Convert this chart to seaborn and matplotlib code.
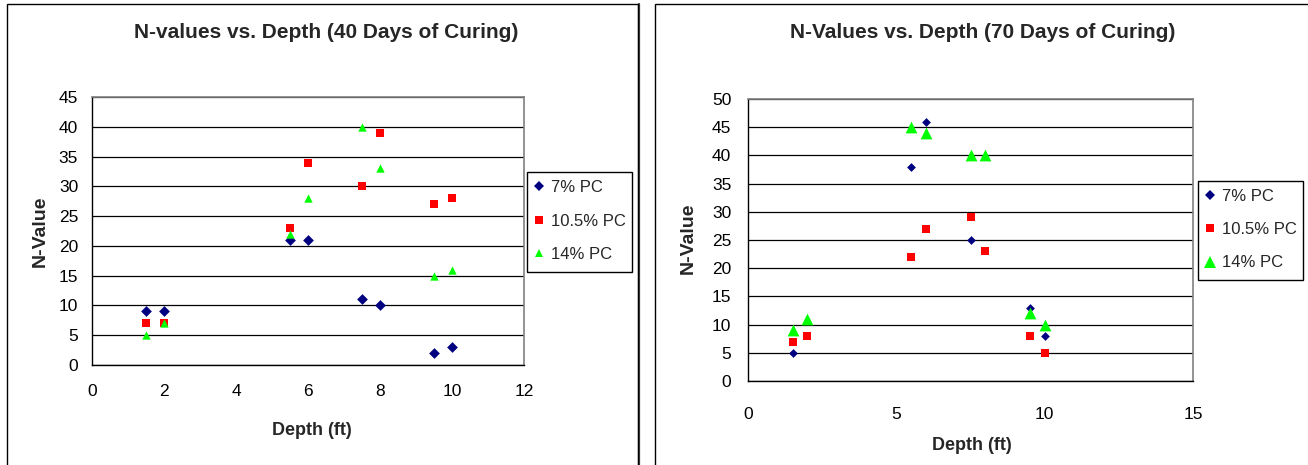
import matplotlib
matplotlib.use("Agg")
import matplotlib.pyplot as plt
from matplotlib.lines import Line2D
from matplotlib.patches import Rectangle
import numpy as np
import pandas as pd
import seaborn as sns

# ---- data -------------------------------------------------------------
series = ["7% PC", "10.5% PC", "14% PC"]

depth_40 = [1.5, 2, 5.5, 6, 7.5, 8, 9.5, 10]
n40_pc7 = [9, 9, 21, 21, 11, 10, 2, 3]
n40_pc105 = [7, 7, 23, 34, 30, 39, 27, 28]
n40_pc14 = [5, 7, 22, 28, 40, 33, 15, 16]

depth_70_pc7 = [1.5, 5.5, 6, 7.5, 9.5, 10]
n70_pc7 = [5, 38, 46, 25, 13, 8]
depth_70 = [1.5, 2, 5.5, 6, 7.5, 8, 9.5, 10]
n70_pc105 = [7, 8, 22, 27, 29, 23, 8, 5]
n70_pc14 = [9, 11, 45, 44, 40, 40, 12, 10]

titles = ["N-values vs. Depth (40 Days of Curing)",
          "N-Values vs. Depth (70 Days of Curing)"]
x_ticks_40 = [0, 2, 4, 6, 8, 10, 12]
y_ticks_40 = [0, 5, 10, 15, 20, 25, 30, 35, 40, 45]
x_ticks_70 = [0, 5, 10, 15]
y_ticks_70 = [0, 5, 10, 15, 20, 25, 30, 35, 40, 45, 50]


def long_table(parts):
    frames = []
    for name, xs, ys in parts:
        frames.append(pd.DataFrame({"Depth": xs, "N": ys, "Mix": name}))
    return pd.concat(frames, ignore_index=True)


df40 = long_table([(series[0], depth_40, n40_pc7),
                   (series[1], depth_40, n40_pc105),
                   (series[2], depth_40, n40_pc14)])
df70 = long_table([(series[0], depth_70_pc7, n70_pc7),
                   (series[1], depth_70, n70_pc105),
                   (series[2], depth_70, n70_pc14)])

# ---- style ------------------------------------------------------------
sns.set_style("white")
plt.rcParams["font.family"] = ["Liberation Sans", "DejaVu Sans"]

colors = {"7% PC": "#000080", "10.5% PC": "#FF0000", "14% PC": "#00FF00"}
markers = {"7% PC": "D", "10.5% PC": "s", "14% PC": "^"}

W, H = 1308, 465
fig = plt.figure(figsize=(W / 100, H / 100), dpi=100)
fig.patch.set_facecolor("white")


def px_axes(x0, y0, x1, y1):
    return fig.add_axes([x0 / W, 1 - y1 / H, (x1 - x0) / W, (y1 - y0) / H])


def px_box(x0, y0, x1, y1, lw=1.0, color="black"):
    fig.patches.append(Rectangle((x0 / W, 1 - y1 / H), (x1 - x0) / W,
                                 (y1 - y0) / H, transform=fig.transFigure,
                                 fill=False, edgecolor=color,
                                 linewidth=lw, zorder=5))


def draw_panel(ax, df, sizes, xticks, yticks, xpad, ypad):
    for name in series:
        sub = df[df["Mix"] == name]
        sns.scatterplot(data=sub, x="Depth", y="N", ax=ax,
                        color=colors[name], marker=markers[name],
                        s=sizes[name], linewidth=0, legend=False, zorder=3)
    ax.set_xlim(xticks[0], xticks[-1])
    ax.set_ylim(yticks[0], yticks[-1])
    ax.set_xticks(xticks)
    ax.set_yticks(yticks)
    ax.yaxis.grid(True, color="#000000", linewidth=0.9)
    ax.xaxis.grid(False)
    ax.set_axisbelow(True)
    for side in ("top", "right"):
        ax.spines[side].set_color("#808080")
        ax.spines[side].set_linewidth(1.2)
    for side in ("left", "bottom"):
        ax.spines[side].set_color("#000000")
        ax.spines[side].set_linewidth(1.0)
    ax.tick_params(axis="both", direction="out", length=4, width=1,
                   color="black", labelsize=12.5, labelcolor="black")
    ax.tick_params(axis="x", pad=xpad)
    ax.tick_params(axis="y", pad=ypad)
    ax.set_xlabel("Depth (ft)", fontsize=13, fontweight="bold")
    ax.set_ylabel("N-Value", fontsize=14, fontweight="bold")
    ax.xaxis.label.set_va("center")
    ax.yaxis.label.set_va("center")


def add_legend(ax, msizes, left_px, mid_px):
    handles = [Line2D([], [], linestyle="none", marker=markers[n],
                      markersize=msizes[n], markerfacecolor=colors[n],
                      markeredgewidth=0, label=n) for n in series]
    ax.legend(handles=handles, loc="center left",
              bbox_to_anchor=(left_px / W, 1 - mid_px / H),
              bbox_transform=fig.transFigure, borderaxespad=0,
              frameon=False, fontsize=12, labelspacing=1.1,
              handlelength=0.6, handletextpad=0.42, borderpad=0)


# outer chart frames
px_box(7, 4, 638, 480)
fig.add_artist(Line2D([638.5 / W, 638.5 / W], [0, 1 - 4 / H],
                      transform=fig.transFigure, color="#404040",
                      linewidth=1.6))
px_box(655, 4, 1320, 480)

# 40-day panel
sizes40 = {"7% PC": 30, "10.5% PC": 34, "14% PC": 36}
legend40 = {"7% PC": 5.6, "10.5% PC": 5.8, "14% PC": 6.2}
ax1 = px_axes(92, 97, 524, 365)
draw_panel(ax1, df40, sizes40, x_ticks_40, y_ticks_40, xpad=10, ypad=6)
ax1.xaxis.set_label_coords(0.509, -0.243)
ax1.yaxis.set_label_coords(-0.120, 0.498)
add_legend(ax1, legend40, 534, 221)
px_box(527, 172, 632, 272)
fig.text(326 / W, 1 - 32 / H, titles[0], ha="center", va="center",
         fontsize=15, fontweight="bold")

# 70-day panel
sizes70 = {"7% PC": 20, "10.5% PC": 34, "14% PC": 72}
legend70 = {"7% PC": 4.6, "10.5% PC": 5.8, "14% PC": 8.6}
ax2 = px_axes(748, 99, 1193, 381)
draw_panel(ax2, df70, sizes70, x_ticks_70, y_ticks_70, xpad=15, ypad=8)
ax2.xaxis.set_label_coords(0.503, -0.230)
ax2.yaxis.set_label_coords(-0.135, 0.507)
add_legend(ax2, legend70, 1205, 229.5)
px_box(1198, 181, 1303, 280)
fig.text(983 / W, 1 - 32 / H, titles[1], ha="center", va="center",
         fontsize=15, fontweight="bold")

fig.savefig("out.png", dpi=100, facecolor="white")
